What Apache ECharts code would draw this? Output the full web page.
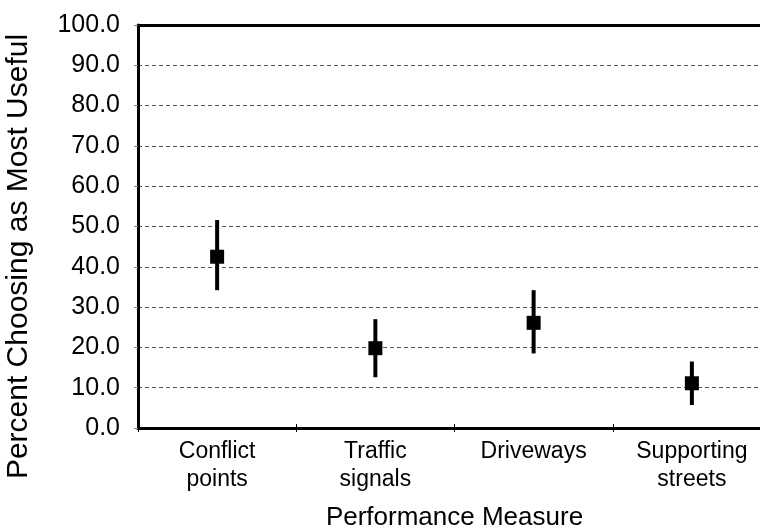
<!DOCTYPE html>
<html>
<head>
<meta charset="utf-8">
<script src="https://cdn.jsdelivr.net/npm/echarts@6/dist/echarts.min.js"></script>
<style>html,body{margin:0;padding:0;background:#fff;overflow:hidden}#c{width:800px;height:532px}</style>
</head>
<body>
<div id="c"></div>
<script>
var categories = ['Conflict\npoints', 'Traffic\nsignals', 'Driveways', 'Supporting\nstreets'];
var means = [42.5, 19.8, 26.1, 11.1];
var lows = [34.2, 12.6, 18.5, 5.7];
var highs = [51.6, 27.0, 34.2, 16.5];
var yTicks = { min: 0, max: 100, interval: 10 };

var chart = echarts.init(document.getElementById('c'), null, { renderer: 'canvas' });
var font = 'Liberation Sans, Arial, sans-serif';
var errData = categories.map(function (c, i) { return [i, lows[i], highs[i]]; });
var gridBox = { left: 138, top: 25, bottom: 104, right: 29, outerBoundsMode: 'none', containLabel: false };

chart.setOption({
  animation: false,
  backgroundColor: '#fff',
  grid: [gridBox, Object.assign({}, gridBox)],
  xAxis: [
    {
      type: 'category', data: categories, position: 'bottom', gridIndex: 0,
      name: 'Performance Measure', nameLocation: 'middle', nameGap: 77,
      nameTextStyle: { fontFamily: font, fontSize: 26, color: '#000' },
      axisLine: { show: true, lineStyle: { color: '#000', width: 3 } },
      axisTick: { show: true, length: 4, lineStyle: { color: '#000', width: 1 } },
      axisLabel: { fontFamily: font, fontSize: 23, color: '#000', lineHeight: 28, margin: 10 },
      splitLine: { show: false }
    },
    {
      type: 'category', data: categories, position: 'top', gridIndex: 0,
      axisLine: { show: true, lineStyle: { color: '#000', width: 3 } },
      axisTick: { show: false }, axisLabel: { show: false }, splitLine: { show: false }
    },
    {
      type: 'category', data: categories, position: 'bottom', gridIndex: 1,
      axisLine: { show: false },
      axisTick: { show: true, inside: true, length: 4, lineStyle: { color: '#000', width: 1 } },
      axisLabel: { show: false }, splitLine: { show: false }
    }
  ],
  yAxis: [
    {
      type: 'value', min: yTicks.min, max: yTicks.max, interval: yTicks.interval, gridIndex: 0,
      name: 'Percent Choosing as Most Useful', nameLocation: 'middle', nameGap: 104, nameRotate: 90,
      nameTextStyle: { fontFamily: font, fontSize: 30, color: '#000', padding: [0, 60, 0, 0] },
      axisLine: { show: true, lineStyle: { color: '#000', width: 3 } },
      axisTick: { show: true, length: 4, lineStyle: { color: '#888', width: 1 } },
      axisLabel: { fontFamily: font, fontSize: 25, color: '#000', margin: 18,
        formatter: function (v) { return v.toFixed(1); } },
      splitLine: { show: true, lineStyle: { color: '#555', width: 1, type: [4, 3] } }
    },
    {
      type: 'value', min: yTicks.min, max: yTicks.max, interval: yTicks.interval, gridIndex: 1,
      show: false
    }
  ],
  series: [
    {
      type: 'custom', xAxisIndex: 0, yAxisIndex: 0, data: errData,
      renderItem: function (params, api) {
        var p1 = api.coord([api.value(0), api.value(1)]);
        var p2 = api.coord([api.value(0), api.value(2)]);
        return { type: 'line', shape: { x1: p1[0], y1: p1[1], x2: p2[0], y2: p2[1] },
          style: { stroke: '#000', lineWidth: 4 } };
      },
      encode: { x: 0, y: [1, 2] }, z: 3
    },
    {
      type: 'scatter', xAxisIndex: 0, yAxisIndex: 0, data: means, symbol: 'rect', symbolSize: 14,
      itemStyle: { color: '#000', opacity: 1 }, z: 4
    }
  ]
});
</script>
</body>
</html>
